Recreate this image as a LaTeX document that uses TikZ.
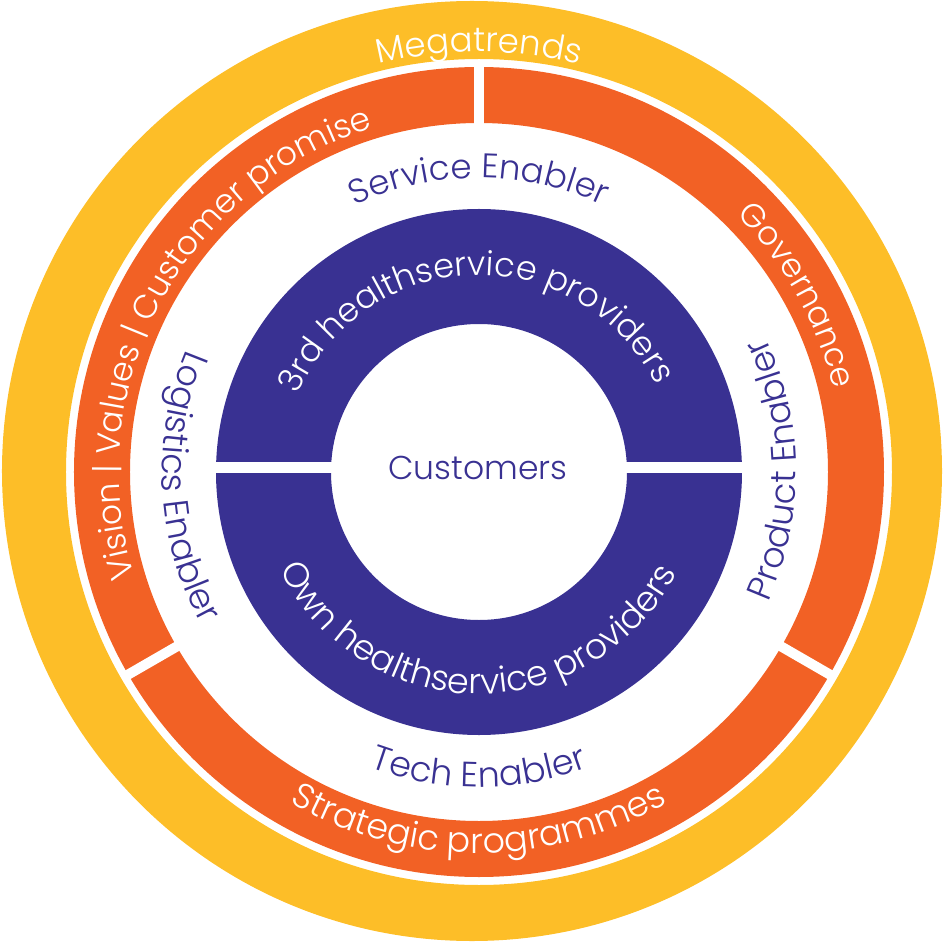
\documentclass[tikz,border=0pt]{standalone}
\usepackage{fontspec}
\IfFontExistsTF{Poppins Light}{\setmainfont{Poppins Light}}{\setmainfont{Poppins}}
\usetikzlibrary{decorations.text}
\definecolor{myyellow}{HTML}{FDBE28}
\definecolor{myorange}{HTML}{F26125}
\definecolor{mypurple}{HTML}{393192}
% #1 colour, #2 size, #3 radius, #4 start angle, #5 end angle, #6 text
\newcommand{\curvetext}[6]{%
  \path[decorate, decoration={text along path, text align=center,
    text color=#1, text format delimiters={[}{]},
    text={[\fontsize{#2}{#2}\selectfont]#6}}]
    (#4:#3) arc[start angle=#4, end angle=#5, radius=#3];}
\begin{document}
\begin{tikzpicture}[x=1pt,y=1pt,
  gapline/.style={white, line width=10pt},
  ringfill/.style={even odd rule}]
\useasboundingbox (-479,-470) rectangle (465,472);
% yellow ring
\fill[myyellow, ringfill] (-7,1) circle (470) (0,0) circle (413);
% orange ring with three gaps
\fill[myorange, ringfill] (0,0) circle (405) (0,0) circle (349);
\foreach \a in {90,210,330}
  \draw[gapline] (\a:340) -- (\a:412);
% purple ring with horizontal gap
\fill[mypurple, ringfill] (0,0) circle (263) (0,0) circle (148);
\fill[white] (-270,-1) rectangle (270,10);
% texts
\curvetext{white}{34}{420}{170}{10}{Megatrends}
\curvetext{white}{33}{360}{237}{67}{Vision | Values | Customer promise}
\curvetext{white}{33}{364}{89}{-31}{Governance}
\curvetext{white}{35}{381}{190}{350}{Strategic programmes}
\curvetext{mypurple}{34}{294}{150}{30}{Service Enabler}
\curvetext{mypurple}{35}{317}{123}{243}{Logistics Enabler}
\curvetext{mypurple}{35}{317}{-59.5}{60.5}{Product Enabler}
\curvetext{mypurple}{35}{315}{210}{330}{Tech Enabler}
\curvetext{white}{33.5}{197}{171.5}{11.5}{3rd healthservice providers}
\curvetext{white}{35}{222}{189.5}{349.5}{Own healthservice providers}
\node[text=mypurple, font=\fontsize{33}{33}\selectfont] (customers) at (-1,4) {Customers};
\end{tikzpicture}
\end{document}
